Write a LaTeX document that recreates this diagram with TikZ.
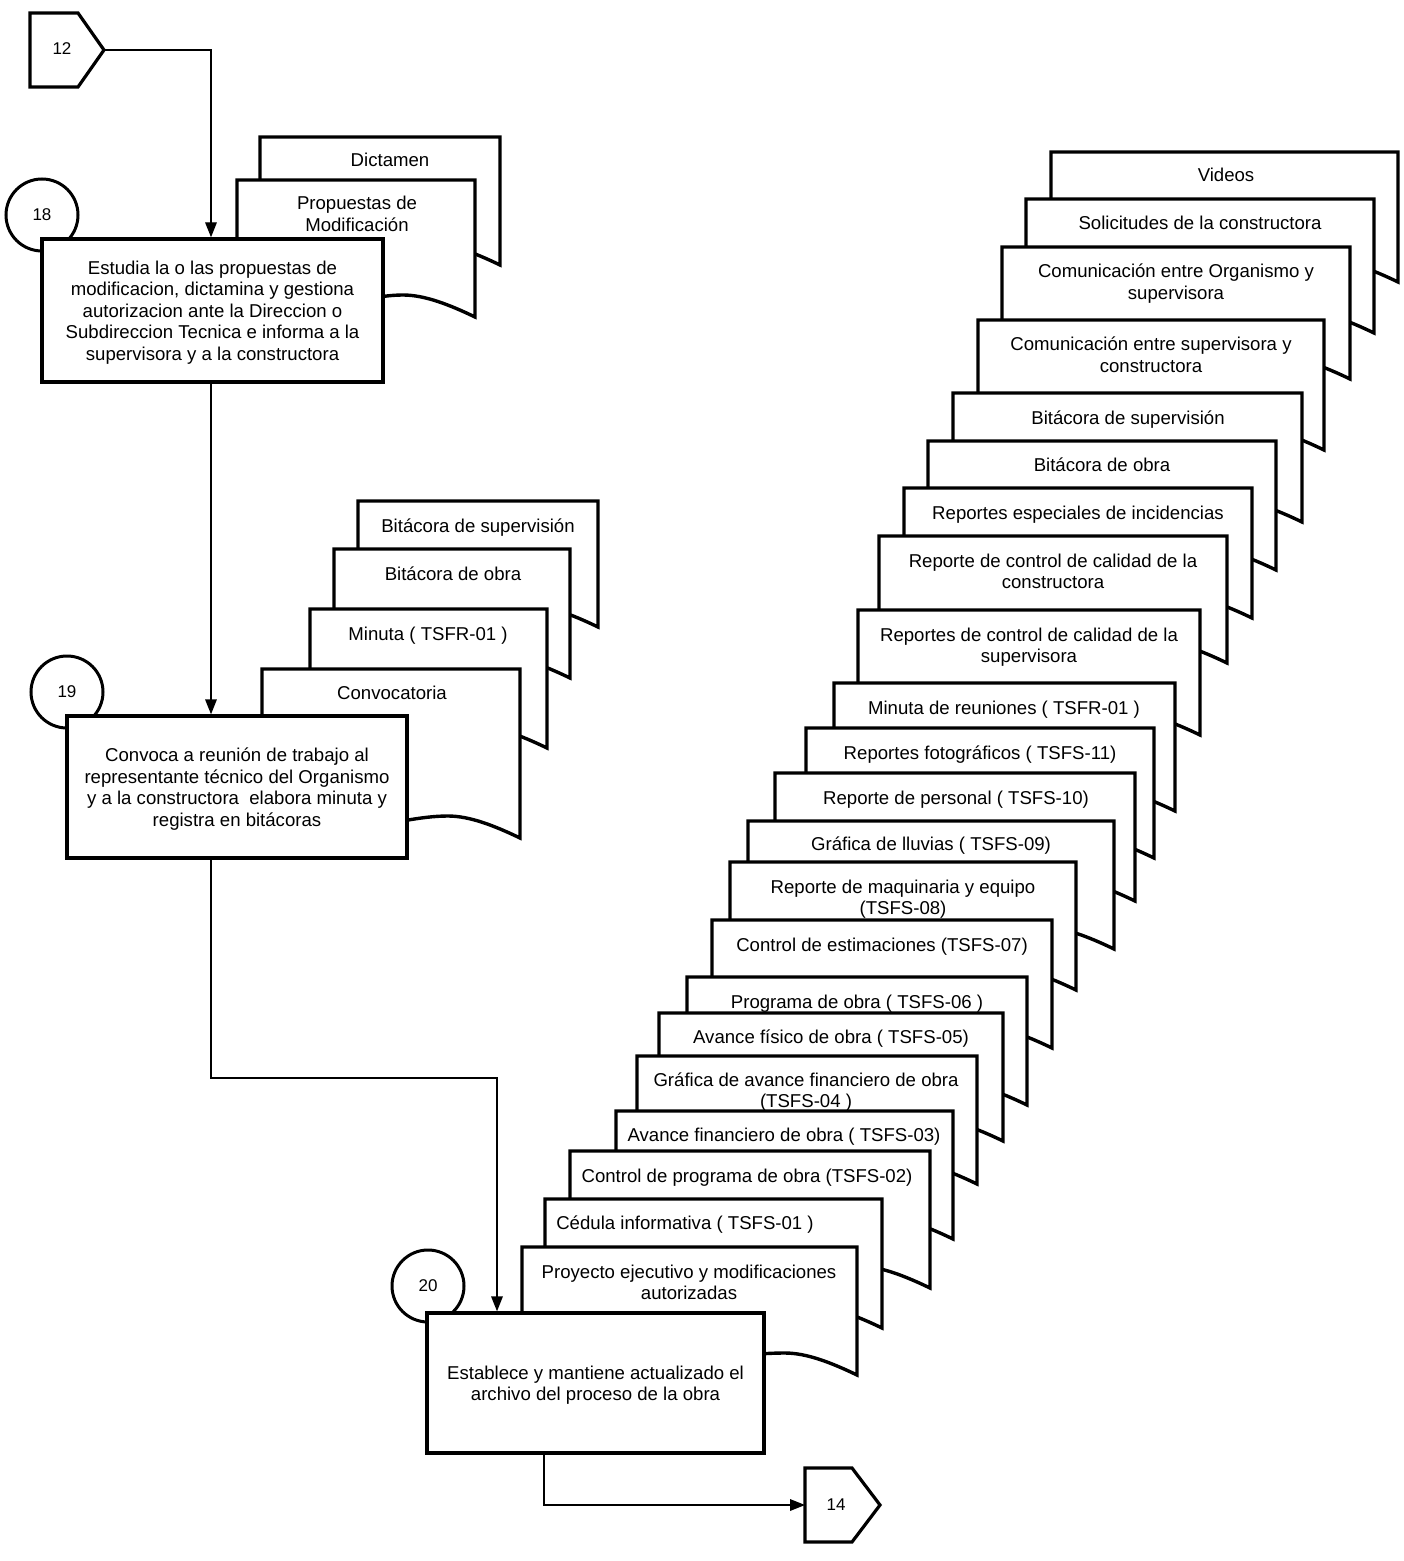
\documentclass[tikz,border=0pt]{standalone}
\usepackage{fontspec}
\setmainfont{Liberation Sans}
\usetikzlibrary{arrows.meta,fit}

% A stacked document sheet: left x, top y, right x, bottom-right corner y.
% The bottom edge is a wave that is lowest at the right corner.
\newcommand\docsheet[4]{%
  \draw[docline] (#1,#2) -- (#3,#2) -- (#3,#4)
    .. controls ({#3-25},{#4-12}) and ({#3-50},{#4-22}) .. ({#3-72},{#4-22})
    .. controls ({#3-72-0.3*(#3-72-#1)},{#4-22}) and ({#1+0.35*(#3-72-#1)},{#4+10}) .. (#1,{#4-14})
    -- cycle;}

\tikzset{
  txtfont/.style={font=\fontsize{9.3}{10.75}\selectfont},
  procbox/.style={draw, line width=1.7pt, fill=white, inner sep=0pt},
  ptext/.style={align=center, inner sep=0pt, txtfont, yshift=-1pt},
  docline/.style={draw, line width=1.7pt, fill=white, line join=miter},
  numcirc/.style={draw, circle, line width=1.5pt, fill=white, minimum size=36pt, inner sep=0pt,
                  font=\fontsize{8.5}{10}\selectfont},
  offpage/.style={draw, line width=1.6pt, fill=white, line join=miter},
  numtxt/.style={inner sep=0pt, font=\fontsize{8.5}{10}\selectfont},
  conn/.style={line width=0.7pt, -{Triangle[length=7.5pt,width=5.8pt]}},
  lbl/.style={anchor=base, align=center, inner sep=0pt, txtfont},
  lbltwo/.style={lbl, yshift=-10.75pt}
}

\begin{document}
\begin{tikzpicture}[x=0.5pt, y=-0.5pt]
\fill[white] (0,0) rectangle (1403,1561);
\useasboundingbox (0,0) rectangle (1403,1561);

% ---------- off-page connector 12 ----------
\coordinate (t12) at (104,50);
\draw[offpage] (30,13) -- (78,13) -- (t12) -- (78,87) -- (30,87) -- cycle;
\node[numtxt] (off12) at (62,49) {12};

% ---------- step 18 ----------
\docsheet{260}{137}{500}{265}
\node[lbl] (dDict) at (390,167) {Dictamen};
\docsheet{237}{180}{475}{317}
\node[lbltwo] (dProp) at (357,210) {Propuestas de\\Modificación};
\node[numcirc] (c18) at (42,215) {18};
\node[procbox, fit={(42,239) (383,382)}] (p18) {};
\node[ptext] (p18t) at (p18.center)
  {Estudia la o las propuestas de\\modificacion, dictamina y gestiona\\autorizacion ante la Direccion o\\Subdireccion Tecnica e informa a la\\supervisora y a la constructora};

% ---------- step 19 ----------
\docsheet{358}{501}{598}{627}
\node[lbl] (dBitSupA) at (478,532) {Bitácora de supervisión};
\docsheet{334}{549}{570}{678}
\node[lbl] (dBitObrA) at (453,580) {Bitácora de obra};
\docsheet{310}{609}{547}{748}
\node[lbl] (dMinA) at (428,640) {Minuta ( TSFR-01 )};
\docsheet{262}{669}{520}{838}
\node[lbl] (dConv) at (392,699) {Convocatoria};
\node[numcirc] (c19) at (67,692) {19};
\node[procbox, fit={(67,716) (407,858)}] (p19) {};
\node[ptext] (p19t) at (p19.center)
  {Convoca a reunión de trabajo al\\representante técnico del Organismo\\y a la constructora~ elabora minuta y\\registra en bitácoras};

% ---------- step 20: archive documents ----------
\docsheet{1051}{152}{1398}{282}
\node[lbl] (r01) at (1226,182) {Videos};
\docsheet{1026}{199}{1374}{333}
\node[lbl] (r02) at (1200,230) {Solicitudes de la constructora};
\docsheet{1002}{247}{1350}{379}
\node[lbltwo] (r03) at (1176,278) {Comunicación entre Organismo y\\supervisora};
\docsheet{978}{320}{1324}{450}
\node[lbltwo] (r04) at (1151,351) {Comunicación entre supervisora y\\constructora};
\docsheet{953}{393}{1302}{522}
\node[lbl] (r05) at (1128,424) {Bitácora de supervisión};
\docsheet{928}{441}{1276}{570}
\node[lbl] (r06) at (1102,471) {Bitácora de obra};
\docsheet{904}{488}{1252}{618}
\node[lbl] (r07) at (1078,519) {Reportes especiales de incidencias};
\docsheet{879}{536}{1227}{663}
\node[lbltwo] (r08) at (1053,567) {Reporte de control de calidad de la\\constructora};
\docsheet{858}{610}{1200}{735}
\node[lbltwo] (r09) at (1029,641) {Reportes de control de calidad de la\\supervisora};
\docsheet{834}{683}{1175}{811}
\node[lbl] (r10) at (1004,714) {Minuta de reuniones ( TSFR-01 )};
\docsheet{806}{728}{1154}{858}
\node[lbl] (r11) at (980,759) {Reportes fotográficos ( TSFS-11)};
\docsheet{775}{773}{1135}{901}
\node[lbl] (r12) at (956,804) {Reporte de personal ( TSFS-10)};
\docsheet{748}{821}{1114}{949}
\node[lbl] (r13) at (931,850) {Gráfica de lluvias ( TSFS-09)};
\docsheet{730}{862}{1076}{990}
\node[lbltwo] (r14) at (903,893) {Reporte de maquinaria y equipo\\(TSFS-08)};
\docsheet{712}{920}{1052}{1048}
\node[lbl] (r15) at (882,951) {Control de estimaciones (TSFS-07)};
\docsheet{687}{977}{1027}{1105}
\node[lbl] (r16) at (857,1008) {Programa de obra ( TSFS-06 )};
\docsheet{659}{1013}{1003}{1141}
\node[lbl] (r17) at (831,1043) {Avance físico de obra ( TSFS-05)};
\docsheet{637}{1056}{977}{1184}
\node[lbltwo] (r18) at (806,1086) {Gráfica de avance financiero de obra\\(TSFS-04 )};
\docsheet{616}{1111}{953}{1239}
\node[lbl] (r19) at (784,1141) {Avance financiero de obra ( TSFS-03)};
\docsheet{570}{1151}{930}{1288}
\node[lbl] (r20) at (747,1182) {Control de programa de obra (TSFS-02)};
\docsheet{545}{1199}{882}{1328}
\node[lbl] (r21) at (685,1229) {Cédula informativa ( TSFS-01 )};
\docsheet{522}{1247}{857}{1375}
\node[lbltwo] (r22) at (689,1278) {Proyecto ejecutivo y modificaciones\\autorizadas};

\node[numcirc] (c20) at (428,1286) {20};
\node[procbox, fit={(427,1313) (764,1453)}] (p20) {};
\node[ptext] (p20t) at (p20.center)
  {Establece y mantiene actualizado el\\archivo del proceso de la obra};

% ---------- off-page connector 14 ----------
\coordinate (t14in) at (805,1505);
\draw[offpage] (t14in) -- (805,1468) -- (852,1468) -- (880,1505) -- (852,1542) -- (805,1542) -- cycle;
\node[numtxt] (off14) at (836,1505) {14};

% ---------- flow lines ----------
\coordinate (x211) at (211,0);
\coordinate (x497) at (497,0);
\coordinate (x544) at (544,0);
\coordinate (bend) at (211,1078);
\draw[conn] (t12) -| (p18.north -| x211);
\draw[conn] (p18.south -| x211) -- (p19.north -| x211);
\draw[conn] (p19.south -| x211) -- (bend) -| (p20.north -| x497);
\draw[conn] (p20.south -| x544) |- (t14in);
\end{tikzpicture}
\end{document}
